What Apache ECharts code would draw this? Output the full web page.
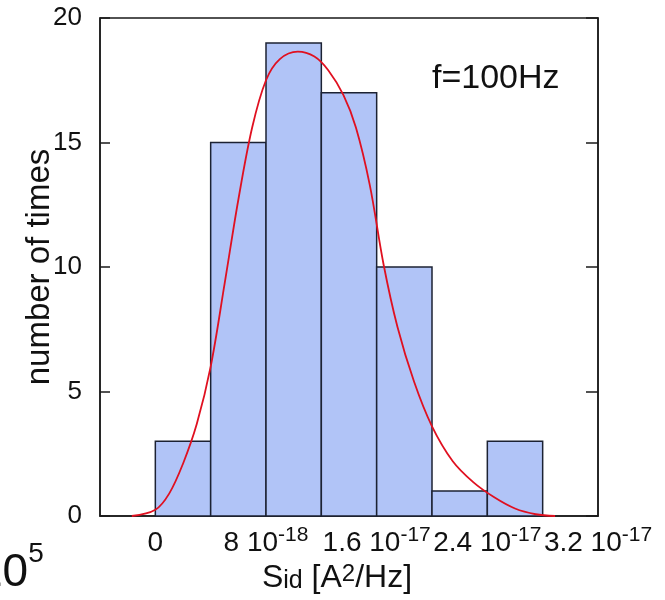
<!DOCTYPE html>
<html>
<head>
<meta charset="utf-8">
<script src="https://cdn.jsdelivr.net/npm/echarts@6/dist/echarts.min.js"></script>
<style>
html,body{margin:0;padding:0;background:#fff;}
#chart{width:665px;height:600px;}
</style>
</head>
<body>
<div id="chart"></div>
<script>
// Histogram bins (x in units of 1e-18 A^2/Hz)
const binStarts = [0, 4, 8, 12, 16, 20, 24];
const binWidth = 4;
const counts = [3, 15, 19, 17, 10, 1, 3];

// Fitted curve: x (1e-18 A^2/Hz), y (number of times)
const fitX = [-1.7, 0, 1.0, 2.0, 3.0, 4.0, 5.0, 6.0, 7.0, 8.0, 9.0, 10.3, 11.5, 12.5, 13.6, 14.5, 15.5, 16.5, 17.5, 18.7, 20.0, 21.5, 23.0, 24.5, 26.0, 27.5, 28.9];
const fitY = [0, 0.25, 0.9, 2.1, 3.7, 6.0, 9.3, 12.7, 15.6, 17.5, 18.35, 18.65, 18.45, 17.9, 16.9, 15.6, 13.3, 10.1, 7.6, 5.4, 3.6, 2.2, 1.35, 0.75, 0.3, 0.07, 0];

// Tick labels
const xTickValues = [0, 8, 16, 24, 32];
const xTickMantissa = ['0', '8', '1.6', '2.4', '3.2'];
const xTickExponent = ['', '-18', '-17', '-17', '-17'];
const yTicks = [0, 5, 10, 15, 20];

const FONT = '"Liberation Sans", Arial, Helvetica, sans-serif';
const chart = echarts.init(document.getElementById('chart'));

const option = {
  animation: false,
  backgroundColor: '#ffffff',
  title: {
    text: 'f=100Hz',
    left: 427,
    top: 57,
    textStyle: {fontFamily: FONT, fontSize: 34, fontWeight: 'normal', color: '#111'}
  },
  graphic: [{
    type: 'text',
    x: -23,
    y: 540,
    style: {
      text: '{a|10}{b|5}',
      rich: {
        a: {fontFamily: FONT, fontSize: 46, lineHeight: 56, verticalAlign: 'bottom', fill: '#111'},
        b: {fontFamily: FONT, fontSize: 28, lineHeight: 24, verticalAlign: 'top', fill: '#111'}
      }
    }
  }],
  grid: {
    left: 100, right: 67, top: 18, bottom: 84,
    show: true, borderColor: '#1a1a1a', borderWidth: 1.5, backgroundColor: 'transparent'
  },
  xAxis: {
    type: 'value',
    min: -4, max: 32, interval: 4,
    name: 'S{sub|id} [A{sup|2}/Hz]',
    nameLocation: 'middle',
    nameGap: 44,
    nameTextStyle: {
      fontFamily: FONT, fontSize: 32, color: '#111', padding: [0, 24, 0, 0],
      rich: {
        sub: {fontFamily: FONT, fontSize: 25, lineHeight: 30, verticalAlign: 'bottom', color: '#111'},
        sup: {fontFamily: FONT, fontSize: 24, lineHeight: 12, verticalAlign: 'top', color: '#111'}
      }
    },
    axisLine: {show: true, onZero: false, lineStyle: {color: '#1a1a1a', width: 1.5}},
    axisTick: {show: false},
    splitLine: {show: false},
    axisLabel: {
      margin: 9,
      color: '#111',
      fontFamily: FONT,
      fontSize: 28,
      showMinLabel: true,
      showMaxLabel: true,
      formatter: function (v) {
        const i = xTickValues.findIndex(t => Math.abs(t - v) < 1e-9);
        if (i < 0) return '';
        if (!xTickExponent[i]) return '{m|' + xTickMantissa[i] + '}';
        return '{m|' + xTickMantissa[i] + ' 10}{s|' + xTickExponent[i] + '}';
      },
      rich: {
        m: {fontFamily: FONT, fontSize: 28, lineHeight: 32, verticalAlign: 'bottom', color: '#111'},
        s: {fontFamily: FONT, fontSize: 21, lineHeight: 12, verticalAlign: 'top', color: '#111'}
      }
    }
  },
  yAxis: [{
    type: 'value',
    min: yTicks[0], max: yTicks[yTicks.length - 1], interval: 5,
    name: 'number of times',
    nameLocation: 'middle',
    nameGap: 44,
    nameMoveOverlap: false,
    nameTextStyle: {fontFamily: FONT, fontSize: 33, color: '#111'},
    axisLine: {show: true, onZero: false, lineStyle: {color: '#1a1a1a', width: 1.5}},
    axisTick: {show: true, inside: true, length: 10, lineStyle: {color: '#1a1a1a', width: 1.5}},
    splitLine: {show: false},
    axisLabel: {margin: 18, color: '#111', fontFamily: FONT, fontSize: 26}
  }, {
    type: 'value',
    position: 'right',
    min: yTicks[0], max: yTicks[yTicks.length - 1], interval: 5,
    axisLine: {show: true, onZero: false, lineStyle: {color: '#1a1a1a', width: 1.5}},
    axisTick: {show: true, inside: true, length: 12, lineStyle: {color: '#1a1a1a', width: 1.5}},
    splitLine: {show: false},
    axisLabel: {show: false}
  }],
  series: [{
    type: 'custom',
    xAxisIndex: 0,
    yAxisIndex: 0,
    encode: {x: [0, 1], y: 2},
    data: binStarts.map((s, i) => [s, s + binWidth, counts[i]]),
    renderItem: function (params, api) {
      const p0 = api.coord([api.value(0), 0]);
      const p1 = api.coord([api.value(1), api.value(2)]);
      return {
        type: 'rect',
        shape: {x: p0[0], y: p1[1], width: p1[0] - p0[0], height: p0[1] - p1[1]},
        style: {fill: '#b1c4f7', stroke: '#1c2233', lineWidth: 1.5}
      };
    },
    z: 2
  }, {
    type: 'line',
    xAxisIndex: 0,
    yAxisIndex: 0,
    data: fitX.map((x, i) => [x, fitY[i]]),
    smooth: 0.35,
    showSymbol: false,
    clip: false,
    lineStyle: {color: '#e01020', width: 1.8},
    z: 3
  }]
};
chart.setOption(option);
</script>
</body>
</html>
